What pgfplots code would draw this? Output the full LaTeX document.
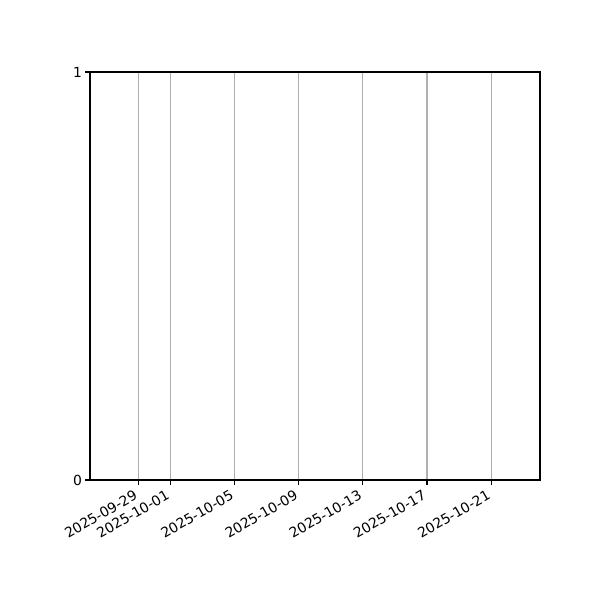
\documentclass[border=0pt]{standalone}
\usepackage{fontspec}
\setmainfont{DejaVu Sans}
\usepackage{pgfplots}
\pgfplotsset{compat=1.18}
\usepgfplotslibrary{dateplot}

\begin{document}
\begin{tikzpicture}
	\begin{axis}[
		scale only axis,
		width=324pt,
		height=293.76pt,
		date coordinates in=x,
		xmin=2025-09-26,
		xmax=2025-10-24 01:00,
		ymin=0, ymax=1,
		xtick={2025-09-29,2025-10-01,2025-10-05,2025-10-09,2025-10-13,2025-10-17,2025-10-21},
		xticklabel={\year-\month-\day},
		ytick={0,1},
		xmajorgrids,
		grid style={color=black!31, line width=0.8pt},
		axis line style={line width=0.8pt},
		tick style={black, line width=0.8pt},
		tick align=outside,
		xtick pos=bottom,
		ytick pos=left,
		major tick length=3.5pt,
		font=\fontsize{10}{12}\selectfont,
		/pgf/number format/assume math mode=true,
		xticklabel style={xshift=-3.6pt, yshift=-3pt, rotate=30, anchor=north east, inner sep=0pt},
		yticklabel style={inner sep=0pt, xshift=-2pt},
	]
		\coordinate (sw) at (rel axis cs:0,0);
	\end{axis}
	\path[use as bounding box] (sw) ++(-64.8pt,-86.4pt) rectangle ++(432pt,432pt);
\end{tikzpicture}
\end{document}
